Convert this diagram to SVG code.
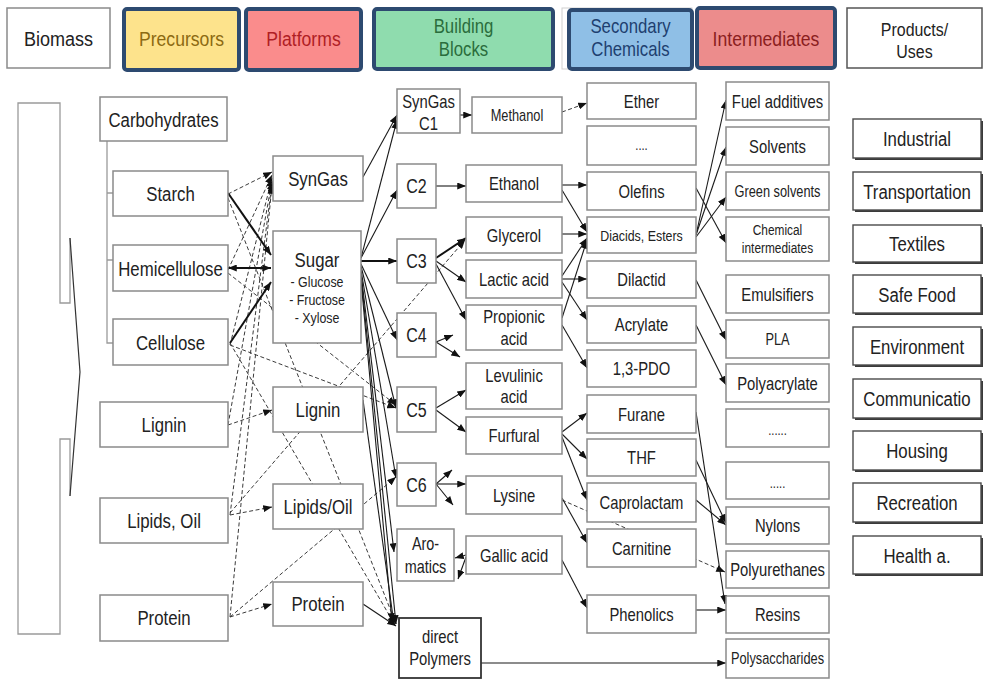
<svg xmlns="http://www.w3.org/2000/svg" width="984" height="679" viewBox="0 0 984 679">
<defs>
<style>
.box{fill:#fff;stroke:#8a8a8a;stroke-width:1.5}
.pbox{fill:#fff;stroke:#4a4a4a;stroke-width:1.4}
.psh{fill:#3a3a3a}
.hd{stroke:#2d4a70;stroke-width:4}
.s{fill:none;stroke:#1a1a1a;stroke-width:1.1}
.k{fill:none;stroke:#111;stroke-width:2}
.d{fill:none;stroke:#3a3a3a;stroke-width:1;stroke-dasharray:4 2.5}
.g{fill:none;stroke:#9a9a9a;stroke-width:1.3}
text{font-family:"Liberation Sans",Arial,sans-serif;fill:#222;text-anchor:middle}
.f21{font-size:21px}.f20{font-size:20px}.f19{font-size:19px}.f185{font-size:18.5px}.f18{font-size:18px}.f16{font-size:16px}.f155{font-size:15.5px}.f145{font-size:14.5px}.f14{font-size:14px}
</style>
<marker id="ah" viewBox="0 0 10 8" refX="10" refY="4" markerWidth="9" markerHeight="7" orient="auto-start-reverse" markerUnits="userSpaceOnUse"><path d="M0,0 L10,4 L0,8 z" fill="#111"/></marker>
</defs>
<rect width="984" height="679" fill="#fff"/>

<!-- header row -->
<g id="header">
<g id="h-biomass"><rect x="7" y="8" width="103" height="60" fill="#fff" stroke="#8a8a8a" stroke-width="1.5"/><text class="f21" transform="translate(58.5,46) scale(.86,1)">Biomass</text></g>
<g id="h-precursors"><rect class="hd" x="124" y="9" width="115" height="61" rx="3" fill="#fde38c"/><text class="f21" style="fill:#8c6a12" transform="translate(181.5,46) scale(.84,1)">Precursors</text></g>
<g id="h-platforms"><rect class="hd" x="246" y="9" width="115" height="61" rx="3" fill="#fa8c8c"/><text class="f21" style="fill:#b01e24" transform="translate(303.5,46) scale(.84,1)">Platforms</text></g>
<g id="h-blocks"><rect class="hd" x="374" y="9" width="179" height="60" rx="3" fill="#8fdcae"/><text class="f20" style="fill:#2a6d3c" transform="translate(463.5,33) scale(.84,1)">Building</text><text class="f20" style="fill:#2a6d3c" transform="translate(463.5,56) scale(.84,1)">Blocks</text></g>
<g id="h-secondary"><rect x="562" y="8" width="130" height="61" fill="#fff" stroke="#cfcfcf" stroke-width="1"/><rect class="hd" x="569" y="10" width="123" height="59" rx="3" fill="#8fbfe6"/><text class="f20" style="fill:#1e3f70" transform="translate(630.5,33) scale(.84,1)">Secondary</text><text class="f20" style="fill:#1e3f70" transform="translate(630.5,56) scale(.84,1)">Chemicals</text></g>
<g id="h-intermediates"><rect class="hd" x="697" y="8" width="138" height="60" rx="3" fill="#ec8c8c"/><text class="f21" style="fill:#8b1e1e" transform="translate(766,46) scale(.84,1)">Intermediates</text></g>
<g id="h-products"><rect x="847" y="8" width="135" height="60" fill="#fff" stroke="#555" stroke-width="1.5"/><text class="f19" transform="translate(914.5,36) scale(.84,1)">Products/</text><text class="f19" transform="translate(914.5,58) scale(.84,1)">Uses</text></g>
</g>

<!-- biomass chevron on the left -->
<g id="biomass-shape">
<path class="g" d="M70,238 V303 H60 V103 H18 V634 H60 V439 H70 V496"/>
<path d="M70,238 L80,372 L70,496" fill="none" stroke="#333" stroke-width="1.2"/>
</g>

<!-- connectors -->
<g id="connectors">
<path class="g" d="M107,141 V343 H113 M107,193 H113 M107,260 H113"/>
<!-- dashed precursor links -->
<g marker-end="url(#ah)">
<path class="d" d="M228,194 L272,172"/>
<path class="d" d="M228,270 L272,175"/>
<path class="d" d="M230,345 L272,178"/>
<path class="d" d="M228,425 L272,181"/>
<path class="d" d="M230,515 L272,183"/>
<path class="d" d="M230,617 L272,185"/>
<path class="d" d="M228,425 L272,410"/>
<path class="d" d="M230,515 L272,507"/>
<path class="d" d="M230,617 L272,604"/>
<path class="d" d="M228,198 L396,624"/>
<path class="d" d="M230,343 L395,625"/>
<path class="d" d="M228,273 L396,405"/>
<path class="d" d="M230,345 L396,408"/>
<path class="d" d="M230,513 L465,240"/>
<path class="d" d="M230,617 L396,477"/>
<path class="d" d="M562,112 L587,103"/>
<path class="d" d="M562,500 L725,572"/>
</g>
<!-- solid links -->
<g marker-end="url(#ah)">
<path class="k" d="M228,193 L271,255"/>
<path class="k" d="M228,268 L271,268" marker-start="url(#ah)"/>
<path class="k" d="M230,343 L271,282"/>
<path class="s" d="M363,177 L397,115"/>
<path class="s" d="M361,258 L397,120"/>
<path class="s" d="M361,258 L397,190"/>
<path class="k" d="M361,261 L397,261"/>
<path class="s" d="M361,264 L397,340"/>
<path class="s" d="M361,266 L396,408"/>
<path class="s" d="M361,270 L396,478"/>
<path class="s" d="M361,273 L394,552"/>
<path class="s" d="M361,276 L396,624"/>
<path class="s" d="M361,280 L392,622"/>
<path class="s" d="M363,400 L394,624"/>
<path class="s" d="M363,604 L396,626"/>
<path class="s" d="M460,115 L472,115"/>
<path class="s" d="M436,186 L466,186"/>
<path class="k" d="M436,258 L466,238"/>
<path class="s" d="M436,261 L466,282"/>
<path class="s" d="M436,264 L466,320"/>
<path class="s" d="M436,342 L453,335"/>
<path class="s" d="M436,342 L460,357"/>
<path class="s" d="M436,408 L466,390"/>
<path class="s" d="M436,410 L466,432"/>
<path class="s" d="M436,484 L452,470"/>
<path class="s" d="M436,484 L466,484"/>
<path class="s" d="M436,484 L453,505"/>
<path class="s" d="M466,555 L455,558"/>
<path class="s" d="M466,557 L458,579"/>
<path class="s" d="M562,185 L587,185"/>
<path class="s" d="M562,190 L587,232"/>
<path class="s" d="M562,234 L587,234"/>
<path class="s" d="M562,279 L587,279"/>
<path class="s" d="M562,276 L587,238"/>
<path class="s" d="M562,282 L587,320"/>
<path class="s" d="M562,318 L587,240"/>
<path class="s" d="M562,325 L587,368"/>
<path class="s" d="M562,432 L587,413"/>
<path class="s" d="M562,434 L587,459"/>
<path class="s" d="M562,437 L587,500"/>
<path class="s" d="M562,498 L587,543"/>
<path class="s" d="M562,560 L587,608"/>
<path class="s" d="M696,235 L726,100"/>
<path class="s" d="M696,235 L726,147"/>
<path class="s" d="M696,237 L726,197"/>
<path class="s" d="M696,188 L726,243"/>
<path class="s" d="M696,280 L726,340"/>
<path class="s" d="M696,325 L726,385"/>
<path class="s" d="M696,412 L725,604"/>
<path class="s" d="M696,460 L726,523"/>
<path class="s" d="M696,500 L726,525"/>
<path class="s" d="M696,610 L726,610"/>
<path class="s" d="M481,663 L726,663"/>
</g>
</g>

<!-- precursors -->
<g id="n-carbohydrates"><rect class="box" x="100" y="97" width="127" height="44"/><text class="f21" transform="translate(163.5,127) scale(.8,1)">Carbohydrates</text></g>
<g id="n-starch"><rect class="box" x="113" y="171" width="115" height="45"/><text class="f21" transform="translate(170.5,201) scale(.8,1)">Starch</text></g>
<g id="n-hemicellulose"><rect class="box" x="113" y="245" width="115" height="46"/><text class="f21" transform="translate(170.5,276) scale(.8,1)">Hemicellulose</text></g>
<g id="n-cellulose"><rect class="box" x="113" y="319" width="115" height="46"/><text class="f21" transform="translate(170.5,350) scale(.8,1)">Cellulose</text></g>
<g id="n-lignin"><rect class="box" x="100" y="402" width="128" height="45"/><text class="f21" transform="translate(164,432) scale(.8,1)">Lignin</text></g>
<g id="n-lipids"><rect class="box" x="100" y="498" width="128" height="45"/><text class="f21" transform="translate(164,528) scale(.8,1)">Lipids, Oil</text></g>
<g id="n-protein"><rect class="box" x="100" y="595" width="128" height="46"/><text class="f21" transform="translate(164,625) scale(.8,1)">Protein</text></g>

<!-- platforms -->
<g id="p-syngas"><rect class="box" x="273" y="156" width="90" height="45"/><text class="f21" transform="translate(318,186) scale(.8,1)">SynGas</text></g>
<g id="p-sugar"><rect class="box" x="273" y="231" width="88" height="112"/><text class="f21" transform="translate(317,267) scale(.8,1)">Sugar</text><text class="f155" transform="translate(317,287) scale(.8,1)">- Glucose</text><text class="f155" transform="translate(317,305) scale(.8,1)">- Fructose</text><text class="f155" transform="translate(317,323) scale(.8,1)">- Xylose</text></g>
<g id="p-lignin"><rect class="box" x="273" y="387" width="90" height="45"/><text class="f21" transform="translate(318,417) scale(.8,1)">Lignin</text></g>
<g id="p-lipids"><rect class="box" x="273" y="484" width="90" height="45"/><text class="f21" transform="translate(318,514) scale(.8,1)">Lipids/Oil</text></g>
<g id="p-protein"><rect class="box" x="273" y="582" width="90" height="44"/><text class="f21" transform="translate(318,611) scale(.8,1)">Protein</text></g>

<!-- building blocks -->
<g id="b-c1"><rect class="box" x="397" y="89" width="63" height="44"/><text class="f185" transform="translate(428.5,108) scale(.8,1)">SynGas</text><text class="f185" transform="translate(428.5,130) scale(.8,1)">C1</text></g>
<g id="b-c2"><rect class="box" x="397" y="164" width="39" height="44"/><text class="f20" transform="translate(416.5,193) scale(.8,1)">C2</text></g>
<g id="b-c3"><rect class="box" x="397" y="239" width="39" height="44"/><text class="f20" transform="translate(416.5,268) scale(.8,1)">C3</text></g>
<g id="b-c4"><rect class="box" x="397" y="313" width="39" height="44"/><text class="f20" transform="translate(416.5,342) scale(.8,1)">C4</text></g>
<g id="b-c5"><rect class="box" x="397" y="387" width="39" height="45"/><text class="f20" transform="translate(416.5,417) scale(.8,1)">C5</text></g>
<g id="b-c6"><rect class="box" x="397" y="463" width="39" height="43"/><text class="f20" transform="translate(416.5,492) scale(.8,1)">C6</text></g>
<g id="b-aromatics"><rect class="box" x="397" y="529" width="57" height="52"/><text class="f18" transform="translate(425.5,550) scale(.8,1)">Aro-</text><text class="f18" transform="translate(425.5,573) scale(.8,1)">matics</text></g>
<g id="b-direct"><rect x="399" y="618" width="82" height="60" fill="#fff" stroke="#333" stroke-width="1.8"/><text class="f185" transform="translate(440,643) scale(.8,1)">direct</text><text class="f185" transform="translate(440,665) scale(.8,1)">Polymers</text></g>

<g id="b-methanol"><rect class="box" x="472" y="97" width="90" height="36"/><text class="f16" transform="translate(517,120.5) scale(.8,1)">Methanol</text></g>
<g id="b-ethanol"><rect class="box" x="466" y="165" width="96" height="37"/><text class="f185" transform="translate(514,190) scale(.8,1)">Ethanol</text></g>
<g id="b-glycerol"><rect class="box" x="466" y="217" width="96" height="36"/><text class="f185" transform="translate(514,241.5) scale(.8,1)">Glycerol</text></g>
<g id="b-lactic"><rect class="box" x="466" y="260" width="96" height="38"/><text class="f185" transform="translate(514,285.5) scale(.8,1)">Lactic acid</text></g>
<g id="b-propionic"><rect class="box" x="466" y="305" width="96" height="45"/><text class="f185" transform="translate(514,323) scale(.8,1)">Propionic</text><text class="f185" transform="translate(514,345) scale(.8,1)">acid</text></g>
<g id="b-levulinic"><rect class="box" x="466" y="363" width="96" height="46"/><text class="f185" transform="translate(514,382) scale(.8,1)">Levulinic</text><text class="f185" transform="translate(514,403) scale(.8,1)">acid</text></g>
<g id="b-furfural"><rect class="box" x="466" y="417" width="96" height="37"/><text class="f185" transform="translate(514,442) scale(.8,1)">Furfural</text></g>
<g id="b-lysine"><rect class="box" x="466" y="476" width="96" height="38"/><text class="f185" transform="translate(514,501.5) scale(.8,1)">Lysine</text></g>
<g id="b-gallic"><rect class="box" x="466" y="536" width="96" height="38"/><text class="f185" transform="translate(514,561.5) scale(.8,1)">Gallic acid</text></g>

<!-- secondary chemicals -->
<g id="s-ether"><rect class="box" x="587" y="83" width="109" height="36"/><text class="f185" transform="translate(641.5,107.5) scale(.8,1)">Ether</text></g>
<g id="s-more"><rect class="box" x="587" y="126" width="109" height="39"/><text class="f14" transform="translate(641.5,150) scale(.8,1)">....</text></g>
<g id="s-olefins"><rect class="box" x="587" y="172" width="109" height="38"/><text class="f185" transform="translate(641.5,197.5) scale(.8,1)">Olefins</text></g>
<g id="s-diacids"><rect class="box" x="587" y="217" width="109" height="36"/><text class="f155" transform="translate(641.5,240.5) scale(.8,1)">Diacids, Esters</text></g>
<g id="s-dilactid"><rect class="box" x="587" y="261" width="109" height="37"/><text class="f185" transform="translate(641.5,286) scale(.8,1)">Dilactid</text></g>
<g id="s-acrylate"><rect class="box" x="587" y="306" width="109" height="37"/><text class="f185" transform="translate(641.5,331) scale(.8,1)">Acrylate</text></g>
<g id="s-pdo"><rect class="box" x="587" y="350" width="109" height="37"/><text class="f185" transform="translate(641.5,375) scale(.8,1)">1,3-PDO</text></g>
<g id="s-furane"><rect class="box" x="587" y="395" width="109" height="38"/><text class="f185" transform="translate(641.5,420.5) scale(.8,1)">Furane</text></g>
<g id="s-thf"><rect class="box" x="587" y="439" width="109" height="37"/><text class="f185" transform="translate(641.5,464) scale(.8,1)">THF</text></g>
<g id="s-caprolactam"><rect class="box" x="587" y="483" width="109" height="39"/><text class="f185" transform="translate(641.5,509) scale(.8,1)">Caprolactam</text></g>
<g id="s-carnitine"><rect class="box" x="587" y="529" width="109" height="38"/><text class="f185" transform="translate(641.5,554.5) scale(.8,1)">Carnitine</text></g>
<g id="s-phenolics"><rect class="box" x="587" y="595" width="109" height="38"/><text class="f185" transform="translate(641.5,620.5) scale(.8,1)">Phenolics</text></g>

<!-- intermediates -->
<g id="i-fuel"><rect class="box" x="726" y="82" width="103" height="38"/><text class="f185" transform="translate(777.5,107.5) scale(.8,1)">Fuel additives</text></g>
<g id="i-solvents"><rect class="box" x="726" y="127" width="103" height="38"/><text class="f185" transform="translate(777.5,152.5) scale(.8,1)">Solvents</text></g>
<g id="i-green"><rect class="box" x="726" y="172" width="103" height="38"/><text class="f16" transform="translate(777.5,196.6) scale(.8,1)">Green solvents</text></g>
<g id="i-chemical"><rect class="box" x="726" y="217" width="103" height="44"/><text class="f145" transform="translate(777.5,235) scale(.82,1)">Chemical</text><text class="f145" transform="translate(777.5,253) scale(.82,1)">intermediates</text></g>
<g id="i-emulsifiers"><rect class="box" x="726" y="275" width="103" height="38"/><text class="f185" transform="translate(777.5,300.5) scale(.8,1)">Emulsifiers</text></g>
<g id="i-pla"><rect class="box" x="726" y="320" width="103" height="38"/><text class="f16" transform="translate(777.5,344.6) scale(.8,1)">PLA</text></g>
<g id="i-polyacrylate"><rect class="box" x="726" y="364" width="103" height="38"/><text class="f185" transform="translate(777.5,389.5) scale(.8,1)">Polyacrylate</text></g>
<g id="i-more1"><rect class="box" x="726" y="409" width="103" height="38"/><text class="f14" transform="translate(777.5,435) scale(.8,1)">......</text></g>
<g id="i-more2"><rect class="box" x="726" y="462" width="103" height="37"/><text class="f14" transform="translate(777.5,488) scale(.8,1)">.....</text></g>
<g id="i-nylons"><rect class="box" x="726" y="507" width="103" height="37"/><text class="f185" transform="translate(777.5,532) scale(.8,1)">Nylons</text></g>
<g id="i-polyurethanes"><rect class="box" x="726" y="551" width="103" height="37"/><text class="f185" transform="translate(777.5,576) scale(.8,1)">Polyurethanes</text></g>
<g id="i-resins"><rect class="box" x="726" y="596" width="103" height="37"/><text class="f185" transform="translate(777.5,621) scale(.8,1)">Resins</text></g>
<g id="i-polysaccharides"><rect class="box" x="726" y="639" width="103" height="39"/><text class="f16" transform="translate(777.5,664) scale(.8,1)">Polysaccharides</text></g>

<!-- products / uses -->
<g id="u-industrial"><rect class="psh" x="855" y="121" width="128" height="39"/><rect class="pbox" x="853" y="119" width="128" height="39"/><text class="f21" transform="translate(917,146) scale(.8,1)">Industrial</text></g>
<g id="u-transportation"><rect class="psh" x="855" y="174" width="128" height="38"/><rect class="pbox" x="853" y="172" width="128" height="38"/><text class="f21" transform="translate(917,198.5) scale(.8,1)">Transportation</text></g>
<g id="u-textiles"><rect class="psh" x="855" y="227" width="128" height="37"/><rect class="pbox" x="853" y="225" width="128" height="37"/><text class="f21" transform="translate(917,251) scale(.8,1)">Textiles</text></g>
<g id="u-safefood"><rect class="psh" x="855" y="277" width="128" height="38"/><rect class="pbox" x="853" y="275" width="128" height="38"/><text class="f21" transform="translate(917,301.5) scale(.8,1)">Safe Food</text></g>
<g id="u-environment"><rect class="psh" x="855" y="329" width="128" height="38"/><rect class="pbox" x="853" y="327" width="128" height="38"/><text class="f21" transform="translate(917,353.5) scale(.8,1)">Environment</text></g>
<g id="u-communication"><rect class="psh" x="855" y="381" width="128" height="39"/><rect class="pbox" x="853" y="379" width="128" height="39"/><text class="f21" transform="translate(917,406) scale(.8,1)">Communicatio</text></g>
<g id="u-housing"><rect class="psh" x="855" y="433" width="128" height="39"/><rect class="pbox" x="853" y="431" width="128" height="39"/><text class="f21" transform="translate(917,458) scale(.8,1)">Housing</text></g>
<g id="u-recreation"><rect class="psh" x="855" y="485" width="128" height="39"/><rect class="pbox" x="853" y="483" width="128" height="39"/><text class="f21" transform="translate(917,510) scale(.8,1)">Recreation</text></g>
<g id="u-health"><rect class="psh" x="855" y="538" width="128" height="38"/><rect class="pbox" x="853" y="536" width="128" height="38"/><text class="f21" transform="translate(917,562.5) scale(.8,1)">Health a.</text></g>
</svg>
